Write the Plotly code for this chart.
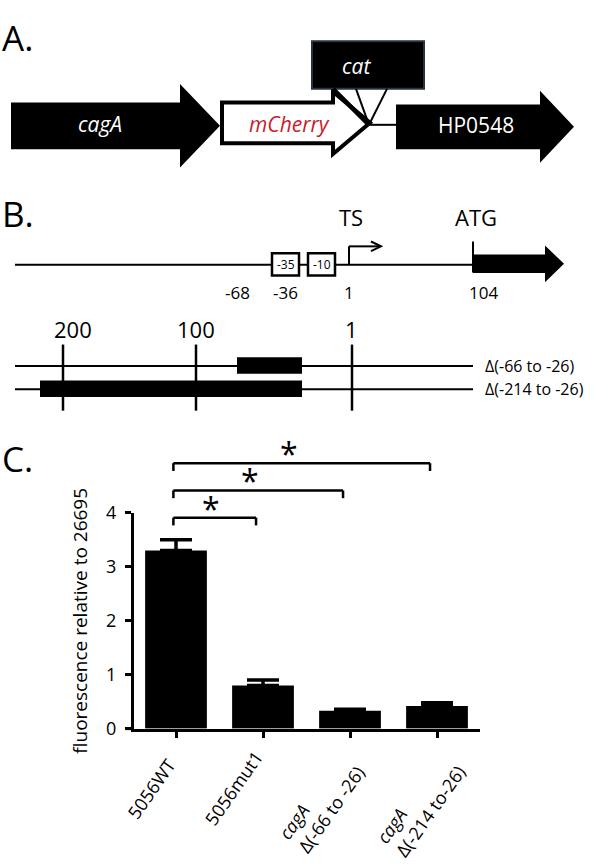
import plotly.graph_objects as go

# panel C data
strains = ["5056WT", "5056mut1", "<i>cagA</i><br>Δ(-66 to -26)", "<i>cagA</i><br>Δ(-214 to-26)"]
fluor = [3.30, 0.80, 0.33, 0.42]
sem = [0.20, 0.10, 0.03, 0.06]
y_ticks = [0, 1, 2, 3, 4]
comparisons = [(0, 1), (0, 2), (0, 3)]

# panel B labels
promoter_pos = ["-68", "-36", "1", "104"]
scale_marks = ["200", "100", "1"]
deletions = ["Δ(-66 to -26)", "Δ(-214 to -26)"]

W, H = 600, 867
FONT = "Open Sans"


def px(x):
    return x / W


def py(y):
    return 1 - y / H


def path(pts):
    return "M " + " L ".join(f"{px(x):.5f},{py(y):.5f}" for x, y in pts) + " Z"


def arrow(x0, xh, x1, yc, hb, hh):
    return [(x0, yc - hb), (xh, yc - hb), (xh, yc - hh), (x1, yc),
            (xh, yc + hh), (xh, yc + hb), (x0, yc + hb)]


fig = go.Figure()
fig.add_trace(go.Bar(
    x=list(range(len(strains))), y=fluor, width=0.71,
    marker=dict(color="black", line=dict(width=0)),
    error_y=dict(type="data", symmetric=False, array=sem, arrayminus=[0] * len(sem),
                 color="black", thickness=3.5, width=16),
))

shapes = []
ann = []


def line(x0, y0, x1, y1, w=2.5, color="black"):
    shapes.append(dict(type="line", xref="paper", yref="paper", x0=px(x0), y0=py(y0),
                       x1=px(x1), y1=py(y1), line=dict(color=color, width=w)))


def text(x, y, s, size, color="black", xa="center", ya="middle", **kw):
    ann.append(dict(xref="paper", yref="paper", x=px(x), y=py(y), text=s, showarrow=False,
                    font=dict(family=FONT, size=size, color=color), xanchor=xa, yanchor=ya, **kw))


# ---------- panel A ----------
text(0, 25, "A.", 35, xa="left")
shapes.append(dict(type="path", xref="paper", yref="paper", path=path(arrow(11, 180, 220, 116, 24, 43)),
                   fillcolor="black", line=dict(width=0)))
shapes.append(dict(type="path", xref="paper", yref="paper", path=path(arrow(222, 333, 370, 113, 21, 32)),
                   fillcolor="white", line=dict(color="black", width=4)))
shapes.append(dict(type="path", xref="paper", yref="paper", path=path(arrow(396, 540, 574, 117, 23, 37)),
                   fillcolor="black", line=dict(width=0)))
shapes.append(dict(type="rect", xref="paper", yref="paper", x0=px(312), y0=py(29), x1=px(424), y1=py(78),
                   fillcolor="black", line=dict(color="#26323f", width=2)))
line(333, 78, 369, 115, w=4.5)
line(356, 78, 369, 115, w=2)
line(387, 78, 369, 115, w=2)
line(369, 115, 397, 115, w=2)
text(100, 114, "<i>cagA</i>", 21, color="white")
text(289, 114, "<i>mCherry</i>", 21, color="#c8202a")
text(356, 54, "<i>cat</i>", 21, color="white")
text(476, 115, "HP0548", 21, color="white")

# ---------- panel B ----------
text(0, 206, "B.", 35, xa="left")
text(351, 210, "TS", 22)
text(476, 210, "ATG", 22)
line(15, 259, 473, 259, w=2)
for x0, lab in [(272, "-35"), (308, "-10")]:
    shapes.append(dict(type="rect", xref="paper", yref="paper", x0=px(x0), y0=py(247), x1=px(x0 + 27),
                       y1=py(270), fillcolor="white", line=dict(color="black", width=2.5)))
    text(x0 + 13.5, 258.5, lab, 12)
line(349, 259, 349, 240, w=2)
line(349, 240, 379, 240, w=2)
shapes.append(dict(type="path", xref="paper", yref="paper",
                   path=f"M {px(371):.5f},{py(235):.5f} L {px(381):.5f},{py(240):.5f} L {px(371):.5f},{py(245):.5f}",
                   line=dict(color="black", width=2)))
line(473, 235, 473, 267, w=2)
shapes.append(dict(type="path", xref="paper", yref="paper", path=path(arrow(473, 545, 564, 258, 9.5, 19)),
                   fillcolor="black", line=dict(width=0)))
for x, lab in zip([237, 285, 349, 483], promoter_pos):
    text(x, 287, lab, 17)

for x, lab in zip([73, 196, 351], scale_marks):
    text(x, 325, lab, 22)
for x in [63, 196, 352]:
    line(x, 341, x, 409, w=2.5)
row_y = [363, 387]
box_x0 = [237, 40]
for y, bx, lab in zip(row_y, box_x0, deletions):
    line(15, y, 473, y, w=2)
    shapes.append(dict(type="rect", xref="paper", yref="paper", x0=px(bx), y0=py(y - 9), x1=px(302),
                       y1=py(y + 8), fillcolor="black", line=dict(width=0)))
    text(483, y, lab, 16, xa="left")

# ---------- panel C ----------
text(0, 458, "C.", 35, xa="left")
text(80, 625, "fluorescence relative to 26695", 19, textangle=-90)
line(126, 736, 134, 736, w=3)

for k, (i, j) in enumerate(comparisons):
    yb = 519 - 28 * k
    left, right = i - 0.03, j - 0.08
    for x0, y0, x1, y1 in [(left, yb, right, yb), (left, yb, left, yb + 8), (right, yb, right, yb + 8)]:
        shapes.append(dict(type="line", xref="x", yref="paper", x0=x0, y0=py(y0), x1=x1, y1=py(y1),
                           line=dict(color="black", width=2.5)))
    ann.append(dict(xref="x", yref="paper", x=left + 0.45 * (right - left), y=py(yb - 14), text="*",
                    showarrow=False, font=dict(family=FONT, size=32, color="black"),
                    xanchor="center", yanchor="middle", yshift=-4))

label_top = [759, 751, 753, 753]
label_dx = [7, 8, 22, 36]
for i, lab in enumerate(strains):
    ann.append(dict(xref="x", yref="paper", x=i, y=py(label_top[i]), xshift=label_dx[i], text=lab,
                    showarrow=False, textangle=-55, align="left", xanchor="right", yanchor="top",
                    font=dict(family=FONT, size=18, color="black")))

x_lo = (134 - 176) / 87
x_hi = (480 - 176) / 87
fig.update_layout(
    width=W, height=H, margin=dict(l=0, r=0, t=0, b=0),
    paper_bgcolor="white", plot_bgcolor="white", showlegend=False,
    font=dict(family=FONT, color="black"),
    xaxis=dict(domain=[px(134), px(480)], range=[x_lo, x_hi], showgrid=False, zeroline=False,
               showline=True, linecolor="black", linewidth=3, ticks="outside", ticklen=6,
               tickwidth=2.5, tickcolor="black", tickvals=list(range(len(strains))),
               showticklabels=False, fixedrange=True),
    yaxis=dict(domain=[py(736), py(514)], range=[0, 4], showgrid=False, zeroline=False,
               showline=True, linecolor="black", linewidth=3, ticks="outside", ticklen=6,
               tickwidth=2.5, tickcolor="black", tickvals=y_ticks, ticklabelstandoff=5,
               tickfont=dict(family=FONT, size=18, color="black"), fixedrange=True),
    shapes=shapes, annotations=ann,
)

# drop the page's default body margin so the figure sits at the window corner
fig.write_html("out.html", config={"displayModeBar": False},
               post_script="document.body.style.margin='0';")
